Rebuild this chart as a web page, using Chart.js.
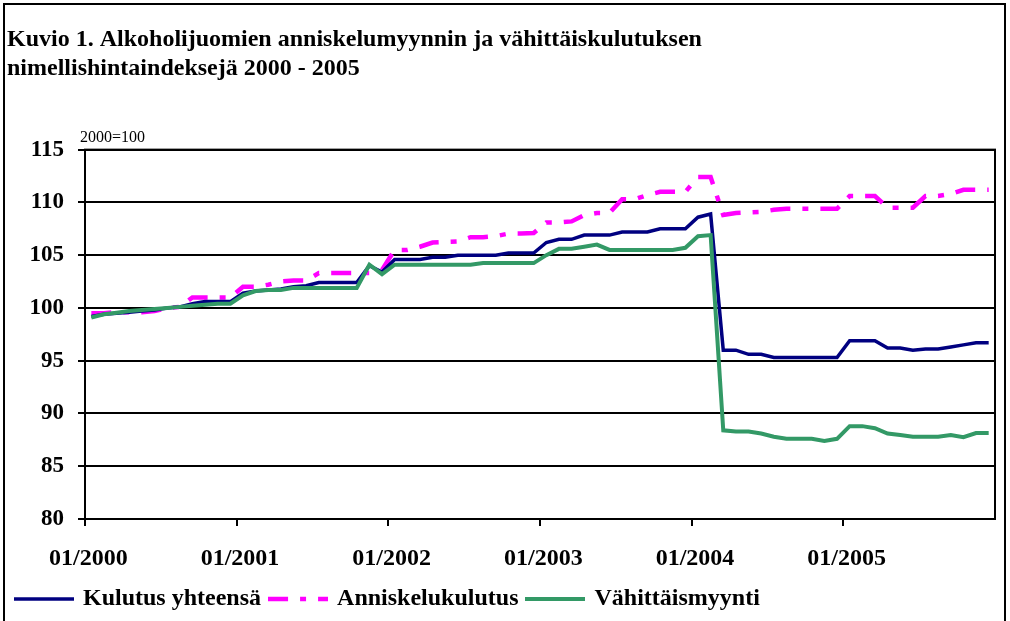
<!DOCTYPE html>
<html>
<head>
<meta charset="utf-8">
<script src="https://cdn.jsdelivr.net/npm/chart.js@4/dist/chart.umd.min.js"></script>
<style>
  body { margin: 0; background: #fff; overflow: hidden; }
  #frame { position: absolute; left: 3px; top: 3px; width: 999px; height: 640px; border: 2px solid #000; }
  #myChart { position: absolute; left: 0; top: 0; }
</style>
</head>
<body>
<div id="frame"></div>
<canvas id="myChart" width="1010" height="621"></canvas>
<script>
const years = [2000, 2001, 2002, 2003, 2004, 2005];

// kuukausittaiset indeksit 01/2000 - 12/2005, 2000=100
const kulutusYhteensa = [
  99.2, 99.4, 99.5, 99.6, 99.7, 99.8, 100.0, 100.1, 100.4, 100.6, 100.6, 100.6,
  101.4, 101.6, 101.7, 101.8, 102.0, 102.1, 102.4, 102.4, 102.4, 102.4, 104.0, 103.4,
  104.6, 104.6, 104.6, 104.8, 104.8, 105.0, 105.0, 105.0, 105.0, 105.2, 105.2, 105.2,
  106.2, 106.5, 106.5, 106.9, 106.9, 106.9, 107.2, 107.2, 107.2, 107.5, 107.5, 107.5,
  108.6, 108.9, 96.0, 96.0, 95.6, 95.6, 95.3, 95.3, 95.3, 95.3, 95.3, 95.3,
  96.9, 96.9, 96.9, 96.2, 96.2, 96.0, 96.1, 96.1, 96.3, 96.5, 96.7, 96.7
];
const anniskelukulutus = [
  99.5, 99.5, 99.6, 99.6, 99.6, 99.7, 100.0, 100.1, 101.0, 101.0, 101.0, 101.0,
  102.0, 102.0, 102.2, 102.5, 102.6, 102.6, 103.3, 103.3, 103.3, 103.3, 103.3, 103.6,
  105.5, 105.5, 105.8, 106.2, 106.25, 106.3, 106.7, 106.7, 106.8, 107.05, 107.05, 107.1,
  108.1, 108.1, 108.2, 108.8, 109.0, 109.0, 110.3, 110.3, 110.7, 111.0, 111.0, 111.0,
  112.4, 112.4, 108.8, 109.0, 109.05, 109.1, 109.3, 109.4, 109.4, 109.4, 109.4, 109.4,
  110.6, 110.6, 110.6, 109.5, 109.5, 109.5, 110.6, 110.6, 110.8, 111.2, 111.2, 111.2
];
const vahittaismyynti = [
  99.1, 99.4, 99.55, 99.7, 99.8, 99.9, 100.0, 100.1, 100.2, 100.3, 100.4, 100.4,
  101.2, 101.6, 101.7, 101.7, 101.9, 101.9, 101.9, 101.9, 101.9, 101.9, 104.1, 103.2,
  104.1, 104.1, 104.1, 104.1, 104.1, 104.1, 104.1, 104.25, 104.25, 104.25, 104.25, 104.25,
  105.0, 105.6, 105.6, 105.8, 106.0, 105.5, 105.5, 105.5, 105.5, 105.5, 105.5, 105.7,
  106.8, 106.9, 88.4, 88.3, 88.3, 88.1, 87.8, 87.6, 87.6, 87.6, 87.4, 87.6,
  88.8, 88.8, 88.6, 88.1, 87.95, 87.8, 87.8, 87.8, 87.95, 87.75, 88.15, 88.15
];

const kuukaudet = [];
for (let y of years) {
  for (let m = 1; m <= 12; m++) {
    kuukaudet.push((m < 10 ? '0' + m : '' + m) + '/' + y);
  }
}

const serif = '"Liberation Serif", "Times New Roman", serif';
const legendBox = 54;

// selitteen viivanäyte (pisteviiva mukaan)
function viivaNayte(ds) {
  const c = document.createElement('canvas');
  c.width = 60;
  c.height = 8;
  const g = c.getContext('2d');
  g.strokeStyle = ds.borderColor;
  g.lineWidth = ds.borderWidth;
  g.setLineDash(ds.borderDash || []);
  g.beginPath();
  g.moveTo(0, 4);
  g.lineTo(60, 4);
  g.stroke();
  return c;
}

// kehys kuva-alueen ympärille + "2000=100"
const plotFrame = {
  id: 'plotFrame',
  afterDraw(chart) {
    const {ctx, chartArea} = chart;
    ctx.save();
    ctx.strokeStyle = '#000';
    ctx.lineWidth = 2;
    ctx.strokeRect(chartArea.left, chartArea.top, chartArea.right - chartArea.left, chartArea.bottom - chartArea.top);
    ctx.fillStyle = '#000';
    ctx.font = '16px ' + serif;
    ctx.textBaseline = 'alphabetic';
    ctx.fillText('2000=100', chartArea.left - 5, chartArea.top - 8);
    ctx.restore();
  }
};

const config = {
  type: 'line',
  data: {
    labels: kuukaudet,
    datasets: [{
      label: 'Kulutus yhteensä',
      data: kulutusYhteensa,
      borderColor: '#000080',
      backgroundColor: '#000080',
      borderWidth: 3.5,
      pointRadius: 0,
      order: 1
    }, {
      label: 'Anniskelukulutus',
      data: anniskelukulutus,
      borderColor: '#ff00ff',
      backgroundColor: '#ff00ff',
      borderWidth: 4.5,
      borderDash: [20, 12, 6, 12],
      borderCapStyle: 'butt',
      pointRadius: 0,
      order: 2
    }, {
      label: 'Vähittäismyynti',
      data: vahittaismyynti,
      borderColor: '#339966',
      backgroundColor: '#339966',
      borderWidth: 4,
      pointRadius: 0,
      order: 0
    }]
  },
  options: {
    responsive: false,
    animation: false,
    layout: { padding: { left: 7, right: 15, top: 0, bottom: 0 } },
    plugins: {
      title: {
        display: true,
        text: ['Kuvio 1. Alkoholijuomien anniskelumyynnin ja vähittäiskulutuksen', 'nimellishintaindeksejä 2000 - 2005'],
        align: 'start',
        color: '#000',
        font: { family: serif, size: 24, weight: 'bold', lineHeight: 1.18 },
        padding: { top: 26, bottom: 67 }
      },
      legend: {
        position: 'bottom',
        align: 'start',
        labels: {
          color: '#000',
          font: { family: serif, size: 24, weight: 'bold', lineHeight: 0.84 },
          usePointStyle: true,
          pointStyleWidth: legendBox,
          padding: 10,
          sort: (a, b) => a.datasetIndex - b.datasetIndex,
          generateLabels: chart => {
            const items = Chart.defaults.plugins.legend.labels.generateLabels(chart);
            items.forEach(it => {
              it.pointStyle = viivaNayte(chart.data.datasets[it.datasetIndex]);
            });
            return items;
          }
        }
      },
      tooltip: { enabled: false }
    },
    scales: {
      x: {
        offset: true,
        grid: {
          offset: true,
          drawOnChartArea: false,
          tickLength: 7,
          color: c => (c.index % 12 === 0 ? '#000' : 'rgba(0,0,0,0)'),
          lineWidth: 2
        },
        border: { color: '#000', width: 2 },
        ticks: {
          autoSkip: false,
          maxRotation: 0,
          padding: 18,
          labelOffset: -3,
          color: '#000',
          font: { family: serif, size: 24, weight: 'bold' },
          callback: function (val, i) { return i % 12 === 0 ? kuukaudet[i] : ''; }
        },
        afterFit: s => { s.height = 58; }
      },
      y: {
        min: 80,
        max: 115,
        ticks: {
          stepSize: 5,
          padding: 14,
          color: '#000',
          font: { family: serif, size: 23, weight: 'bold' }
        },
        grid: { color: '#000', lineWidth: 2, tickLength: 7 },
        border: { color: '#000', width: 2 },
        afterFit: s => { s.width = 78; }
      }
    }
  },
  plugins: [plotFrame]
};

const myChart = new Chart(document.getElementById('myChart'), config);
</script>
</body>
</html>
